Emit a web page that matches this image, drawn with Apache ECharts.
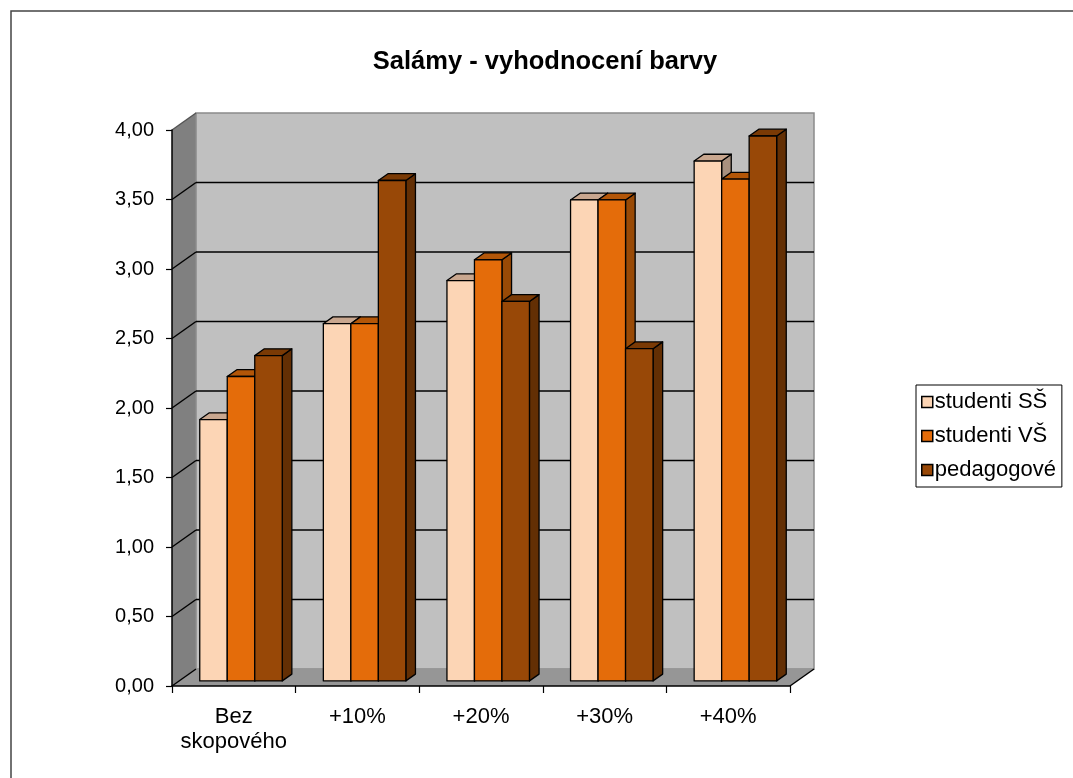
<!DOCTYPE html>
<html>
<head>
<meta charset="utf-8">
<style>
  html, body { margin: 0; padding: 0; background: #fff; }
  #chart { width: 1073px; height: 778px; }
</style>
<script src="https://cdn.jsdelivr.net/npm/echarts@6/dist/echarts.min.js"></script>
</head>
<body>
<div id="chart"></div>
<script>
// Categories and values
const categories = ['Bez\nskopového', '+10%', '+20%', '+30%', '+40%'];
const seriesNames = ['studenti SŠ', 'studenti VŠ', 'pedagogové'];
const studentiSS = [1.88, 2.57, 2.88, 3.46, 3.74];
const studentiVS = [2.19, 2.57, 3.03, 3.46, 3.61];
const pedagogove = [2.34, 3.60, 2.73, 2.39, 3.92];
const yTicks = [0, 0.5, 1, 1.5, 2, 2.5, 3, 3.5, 4];

// Face colours per series: front, top, side
const faceColors = [
  { front: '#FCD5B5', top: '#C9A78F', side: '#A8907E' },
  { front: '#E46C0A', top: '#B35608', side: '#994A06' },
  { front: '#984807', top: '#7A3A05', side: '#632F04' }
];

// Oblique depth of the box (full depth) and of the bars
const DEPTH_DX = 24, DEPTH_DY = -17;
const PLANE_F = 0.3;   // bars' front plane, fraction of full depth
const BAR_F = 0.4;     // bar depth, fraction of full depth
const BAR_W_FRAC = 0.2225;

const FONT = 'Liberation Sans, Arial, sans-serif';

const chart = echarts.init(document.getElementById('chart'));

function fmt(v) { return v.toFixed(2).replace('.', ','); }

function renderWalls(params, api) {
  const cs = params.coordSys;
  const x0 = cs.x, x1 = cs.x + cs.width;
  const yBase = api.coord([0, 0])[1];
  const yTop = api.coord([0, yTicks[yTicks.length - 1]])[1];
  const children = [];
  // side wall
  children.push({ type: 'polygon', shape: { points: [
      [x0, yTop], [x0 + DEPTH_DX, yTop + DEPTH_DY], [x0 + DEPTH_DX, yBase + DEPTH_DY], [x0, yBase]] },
    style: { fill: '#808080', stroke: null } });
  // back wall
  children.push({ type: 'rect', shape: { x: x0 + DEPTH_DX, y: yTop + DEPTH_DY, width: x1 - x0, height: yBase - yTop },
    style: { fill: '#C0C0C0', stroke: '#8A8A8A', lineWidth: 1.5 } });
  // floor
  children.push({ type: 'polygon', shape: { points: [
      [x0, yBase], [x0 + DEPTH_DX, yBase + DEPTH_DY], [x1 + DEPTH_DX, yBase + DEPTH_DY], [x1, yBase]] },
    style: { fill: '#969696', stroke: null } });
  // floor right edge
  children.push({ type: 'line', shape: { x1: x1, y1: yBase, x2: x1 + DEPTH_DX, y2: yBase + DEPTH_DY },
    style: { stroke: '#000', lineWidth: 1.5 } });
  // gridlines on back wall and side wall
  yTicks.forEach(function (t, i) {
    const y = api.coord([0, t])[1];
    const last = i === yTicks.length - 1;
    children.push({ type: 'line', shape: { x1: x0, y1: y, x2: x0 + DEPTH_DX, y2: y + DEPTH_DY },
      style: { stroke: last ? '#555' : '#000', lineWidth: 1.5 } });
    if (i > 0 && !last) {
      children.push({ type: 'line', shape: { x1: x0 + DEPTH_DX, y1: y + DEPTH_DY, x2: x1 + DEPTH_DX, y2: y + DEPTH_DY },
        style: { stroke: '#000', lineWidth: 1.5 } });
    }
  });
  return { type: 'group', children: children };
}

function makeBarRenderer(k) {
  return function (params, api) {
    const ci = api.value(0), v = api.value(1);
    const base = api.coord([ci, 0]);
    const top = api.coord([ci, v]);
    const W = api.size([1, 0])[0];
    const bw = W * BAR_W_FRAC;
    const pdx = DEPTH_DX * PLANE_F, pdy = DEPTH_DY * PLANE_F;
    const bdx = DEPTH_DX * BAR_F, bdy = DEPTH_DY * BAR_F;
    const x0 = base[0] + pdx - 1.5 * bw + k * bw;
    const yb = base[1] + pdy, yt = top[1] + pdy;
    const c = faceColors[k];
    const st = { stroke: '#000', lineWidth: 1.3, lineJoin: 'round' };
    return { type: 'group', children: [
      { type: 'polygon', shape: { points: [[x0 + bw, yt], [x0 + bw + bdx, yt + bdy], [x0 + bw + bdx, yb + bdy], [x0 + bw, yb]] },
        style: Object.assign({ fill: c.side }, st) },
      { type: 'polygon', shape: { points: [[x0, yt], [x0 + bdx, yt + bdy], [x0 + bw + bdx, yt + bdy], [x0 + bw, yt]] },
        style: Object.assign({ fill: c.top }, st) },
      { type: 'rect', shape: { x: x0, y: yt, width: bw, height: yb - yt },
        style: Object.assign({ fill: c.front }, st) }
    ] };
  };
}

const seriesData = [studentiSS, studentiVS, pedagogove];

const option = {
  animation: false,
  textStyle: { fontFamily: FONT },
  title: {
    text: 'Salámy - vyhodnocení barvy',
    left: 540, top: 44, textAlign: 'center',
    textStyle: { fontSize: 25.5, fontWeight: 'bold', color: '#000', fontFamily: FONT }
  },
  graphic: [{
    type: 'rect', z: -10, silent: true,
    shape: { x: 11, y: 11, width: 1080, height: 800 },
    style: { fill: 'none', stroke: '#444', lineWidth: 1.5 }
  }],
  legend: {
    orient: 'vertical',
    left: 916, top: 385,
    padding: [6, 6, 6, 5],
    itemGap: 12,
    itemWidth: 11, itemHeight: 11,
    borderColor: '#000', borderWidth: 1,
    icon: 'rect',
    textStyle: { fontSize: 22, color: '#000', fontFamily: FONT, padding: [0, 0, 0, -3] },
    data: seriesNames.map(function (n, i) {
      return { name: n, itemStyle: { color: faceColors[i].front, borderColor: '#000', borderWidth: 1.5 } };
    })
  },
  grid: { left: 172, right: 283, top: 130, bottom: 92, containLabel: false },
  xAxis: {
    type: 'category', data: categories, z: 10,
    axisLine: { lineStyle: { color: '#000', width: 1.5 } },
    axisTick: { show: true, interval: 0, length: 7, lineStyle: { color: '#000', width: 1.2 } },
    axisLabel: { color: '#000', fontSize: 22, interval: 0, margin: 18, lineHeight: 25, fontFamily: FONT },
    splitLine: { show: false }
  },
  yAxis: {
    type: 'value', min: 0, max: 4, interval: 0.5, z: 10,
    axisLine: { show: true, lineStyle: { color: '#000', width: 1.5 } },
    axisTick: { show: true, length: 6, lineStyle: { color: '#000', width: 1.2 } },
    axisLabel: { color: '#000', fontSize: 20, margin: 18, formatter: fmt, fontFamily: FONT },
    splitLine: { show: false }
  },
  series: [{
    type: 'custom', name: '_walls', z: 1, silent: true,
    renderItem: renderWalls,
    data: [[0, 0]],
    encode: { x: 0, y: 1 }
  }].concat(seriesData.map(function (vals, k) {
    return {
      type: 'custom', name: seriesNames[k], z: 2 + k,
      renderItem: makeBarRenderer(k),
      itemStyle: { color: faceColors[k].front, borderColor: '#000' },
      encode: { x: 0, y: 1 },
      data: vals.map(function (v, i) { return [i, v]; })
    };
  }))
};

chart.setOption(option);
</script>
</body>
</html>
